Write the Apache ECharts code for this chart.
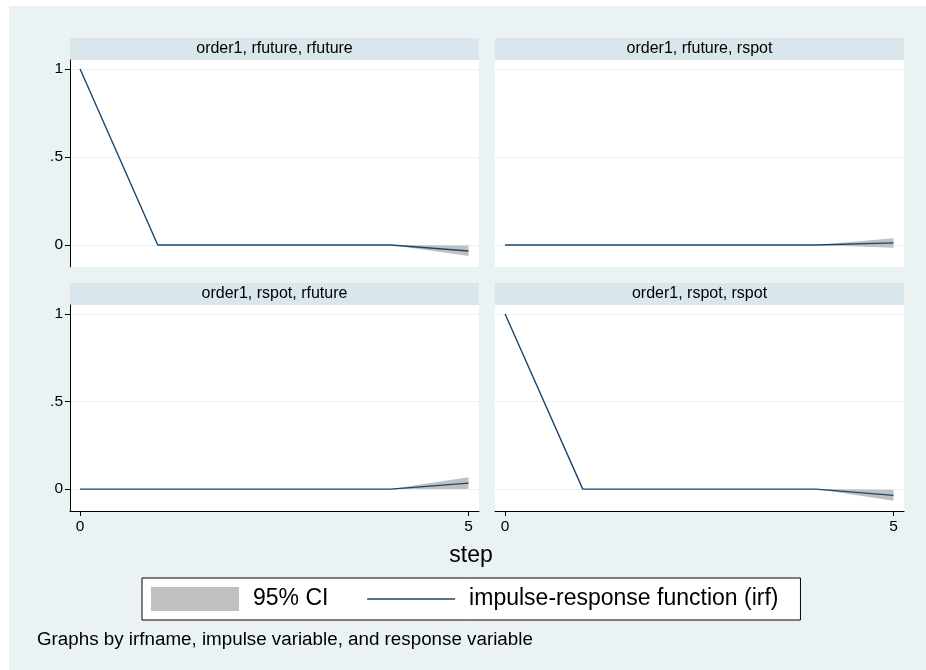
<!DOCTYPE html>
<html>
<head>
<meta charset="utf-8">
<script src="https://cdn.jsdelivr.net/npm/echarts@6/dist/echarts.min.js"></script>
<style>html,body{margin:0;padding:0;background:#fff}#c{width:926px;height:670px}</style>
</head>
<body>
<div id="c"></div>
<script>
// ---- data ----
const steps = [0, 1, 2, 3, 4, 5];
const panelTitles = ['order1, rfuture, rfuture', 'order1, rfuture, rspot', 'order1, rspot, rfuture', 'order1, rspot, rspot'];
const irf_ff = [1, 0, 0, 0, 0, -0.034];
const lo_ff  = [1, 0, 0, 0, 0, -0.062];
const hi_ff  = [1, 0, 0, 0, 0, -0.003];
const irf_fs = [0, 0, 0, 0, 0, 0.012];
const lo_fs  = [0, 0, 0, 0, 0, -0.015];
const hi_fs  = [0, 0, 0, 0, 0, 0.038];
const irf_sf = [0, 0, 0, 0, 0, 0.034];
const lo_sf  = [0, 0, 0, 0, 0, 0.0];
const hi_sf  = [0, 0, 0, 0, 0, 0.068];
const irf_ss = [1, 0, 0, 0, 0, -0.036];
const lo_ss  = [1, 0, 0, 0, 0, -0.066];
const hi_ss  = [1, 0, 0, 0, 0, -0.003];
const xTicks = [0, 5];
const yTicks = [0, 0.5, 1];
const yTickLabels = ['0', '.5', '1'];

const irfs = [irf_ff, irf_fs, irf_sf, irf_ss];
const los = [lo_ff, lo_fs, lo_sf, lo_ss];
const his = [hi_ff, hi_fs, hi_sf, hi_ss];

const FONT = 'Liberation Sans, Arial, sans-serif';
const NAVY = '#1a476f';
const CI = '#c0c0c0';
const BG = '#eaf2f3';
const STRIP = '#d9e6eb';

const gridPos = [
  {left: 70, top: 60, width: 409, height: 207},
  {left: 495, top: 60, width: 409, height: 207},
  {left: 70, top: 305, width: 409, height: 206},
  {left: 495, top: 305, width: 409, height: 206}
];

const grids = [], xAxes = [], yAxes = [], series = [], graphics = [];

// white margins at top/left of the image
graphics.push({type: 'rect', x: 0, y: 0, shape: {width: 926, height: 6}, style: {fill: '#fff'}, silent: true});
graphics.push({type: 'rect', x: 0, y: 0, shape: {width: 9, height: 670}, style: {fill: '#fff'}, silent: true});

function ciRenderItem(params, api) {
  const x0 = api.value(0), l0 = api.value(1), h0 = api.value(2);
  const x1 = api.value(3), l1 = api.value(4), h1 = api.value(5);
  const pts = [api.coord([x0, l0]), api.coord([x1, l1]), api.coord([x1, h1]), api.coord([x0, h0])];
  return {type: 'polygon', shape: {points: pts}, style: {fill: CI}};
}

gridPos.forEach((g, i) => {
  const isLeft = i % 2 === 0;
  const isBottom = i >= 2;
  grids.push(Object.assign({show: true, backgroundColor: '#fff', borderWidth: 0, containLabel: false}, g));
  xAxes.push({
    type: 'value', gridIndex: i, min: -0.13, max: 5.135,
    axisLine: {show: isBottom, onZero: false, lineStyle: {color: '#000', width: 1}},
    axisTick: {show: isBottom, inside: false, length: 5, customValues: xTicks, lineStyle: {color: '#000'}},
    axisLabel: {show: isBottom, customValues: xTicks, margin: 8, fontSize: 15.5, color: '#000', fontFamily: FONT},
    splitLine: {show: false}
  });
  yAxes.push({
    type: 'value', gridIndex: i, min: -0.125, max: 1.051,
    axisLine: {show: isLeft, onZero: false, lineStyle: {color: '#000', width: 1}},
    axisTick: {show: isLeft, inside: false, length: 5, customValues: yTicks, lineStyle: {color: '#000'}},
    axisLabel: {show: isLeft, customValues: yTicks, margin: 7, fontSize: 15.5, color: '#000', fontFamily: FONT,
      formatter: v => yTickLabels[yTicks.indexOf(v)] ?? String(v)},
    splitLine: {show: true, customValues: yTicks, lineStyle: {color: BG, width: 1}}
  });
  const lo = los[i], hi = his[i], irf = irfs[i];
  const segs = [];
  for (let k = 0; k < steps.length - 1; k++) {
    segs.push([steps[k], lo[k], hi[k], steps[k + 1], lo[k + 1], hi[k + 1]]);
  }
  series.push({
    name: '95% CI', type: 'custom', xAxisIndex: i, yAxisIndex: i, silent: true,
    itemStyle: {color: CI}, renderItem: ciRenderItem,
    encode: {x: [0, 3], y: [1, 2, 4, 5]},
    data: segs, z: 1
  });
  series.push({
    name: 'impulse-response function (irf)', type: 'line', xAxisIndex: i, yAxisIndex: i,
    symbol: 'none', silent: true, color: NAVY, lineStyle: {color: NAVY, width: 1.4},
    data: steps.map((s, k) => [s, irf[k]]), z: 3
  });
  // header strip
  const stripTop = g.top - 22;
  graphics.push({type: 'rect', x: g.left, y: stripTop, shape: {width: g.width, height: 22}, style: {fill: STRIP}, silent: true});
  graphics.push({type: 'text', x: g.left + g.width / 2, y: stripTop + 11,
    style: {text: panelTitles[i], font: '16px ' + FONT, fill: '#000', textAlign: 'center', textVerticalAlign: 'middle'}, silent: true});
});

graphics.push({type: 'text', x: 471, y: 556, style: {text: 'step', font: '23px ' + FONT, fill: '#000', textAlign: 'center', textVerticalAlign: 'middle'}, silent: true});
graphics.push({type: 'text', x: 37, y: 640, style: {text: 'Graphs by irfname, impulse variable, and response variable', font: '18.8px ' + FONT, fill: '#000', textVerticalAlign: 'middle'}, silent: true});

const option = {
  backgroundColor: BG,
  animation: false,
  grid: grids,
  xAxis: xAxes,
  yAxis: yAxes,
  series: series,
  legend: {
    left: 142, top: 578,
    orient: 'horizontal',
    backgroundColor: '#fff', borderColor: '#000', borderWidth: 1, borderRadius: 0,
    padding: [9, 22, 9, 9],
    itemWidth: 88, itemHeight: 24, itemGap: 38,
    textStyle: {fontSize: 23, fontFamily: FONT, color: '#000', padding: [0, 0, 0, 9]},
    selectedMode: false,
    data: [
      {name: '95% CI', icon: 'rect', itemStyle: {color: CI}},
      {name: 'impulse-response function (irf)', itemStyle: {color: 'rgba(0,0,0,0)', opacity: 0, borderWidth: 0}, lineStyle: {color: NAVY, width: 1.4}}
    ]
  },
  graphic: graphics
};

const chart = echarts.init(document.getElementById('c'), null, {renderer: 'canvas'});
chart.setOption(option);
</script>
</body>
</html>
